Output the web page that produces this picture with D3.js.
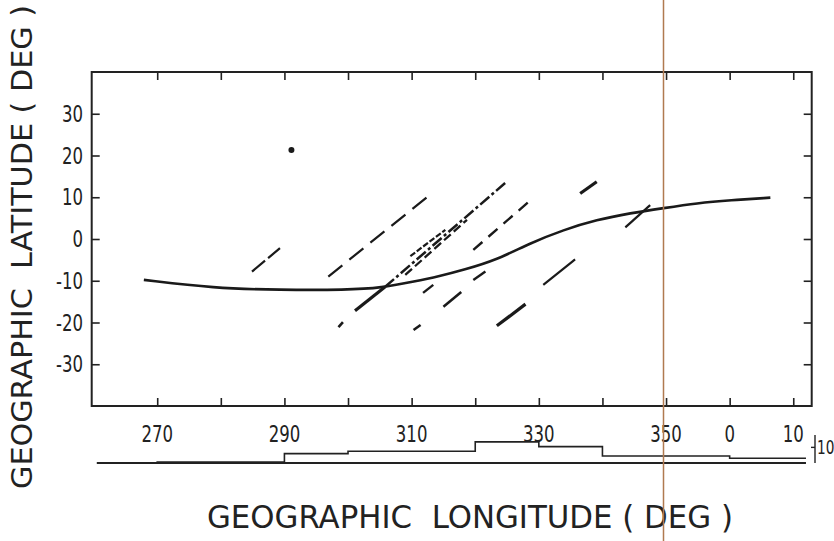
<!DOCTYPE html>
<html>
<head>
<meta charset="utf-8">
<script src="https://cdn.jsdelivr.net/npm/d3@7"></script>
<style>
  body { margin: 0; background: #fff; }
  svg text { font-family: "DejaVu Sans", sans-serif; fill: #222; }
</style>
</head>
<body>
<svg id="chart" width="834" height="541"></svg>
<script>
// longitude ticks (270..370, values above 360 wrap to 0, 10)
var lonTicks = [270, 280, 290, 300, 310, 320, 330, 340, 350, 360, 370];
var lonLabelled = [270, 290, 310, 330, 350, 360, 370];
var latTicks = [-30, -20, -10, 0, 10, 20, 30];

// smooth curve (lon, lat)
var curveLon = [267.9, 278.9, 289.3, 299.8, 305.3, 310.3, 314.2, 318.2, 323.4, 328.6, 333.9, 339.1, 344.4, 349.6, 354.9, 360.1, 366.4];
var curveLat = [-9.8, -11.8, -12.2, -12.2, -11.7, -10.2, -9.0, -7.4, -5.0, -1.0, 2.2, 4.6, 6.2, 7.4, 8.6, 9.3, 9.9];

// track segments: start lon/lat, end lon/lat, dash pattern, stroke weight
var segLon0 = [284.9, 296.9, 301.1, 305.8, 309.0, 309.8, 319.7, 336.5, 319.7, 330.7, 315.0, 323.4, 343.6, 311.8, 298.5, 310.3];
var segLat0 = [-7.8, -9.0, -17.2, -11.5, -8.6, -4.1, -2.6, 10.9, -9.8, -11.0, -16.2, -20.8, 2.8, -12.9, -21.1, -21.8];
var segLon1 = [289.3, 313.3, 305.8, 324.7, 318.7, 315.3, 328.4, 339.1, 321.6, 335.7, 317.8, 327.9, 347.5, 313.4, 299.2, 311.4];
var segLat1 = [-2.2, 11.1, -11.5, 13.4, 4.6, 2.2, 8.9, 13.7, -7.8, -4.9, -12.7, -15.6, 8.1, -11.0, -19.9, -20.6];
var segDash = ["17,4", "18,9", "none", "12,3,3,3", "9,4", "6,2", "12,8", "none", "none", "none", "none", "none", "none", "none", "none", "none"];
var segWidth = [2.2, 2.2, 3.2, 2.5, 2.3, 2.2, 2.4, 3.2, 2.4, 2.2, 2.6, 3.2, 2.2, 2.4, 2.6, 2.6];

// isolated point
var dotLon = [291.1];
var dotLat = [21.3];

// histogram below the axis: 10 degree bins starting at bin edges
var histEdges = [261, 270, 290, 300, 320, 330, 340, 360, 372];
var histCounts = [0, 0.6, 6, 7.5, 13.5, 10.5, 4.5, 3];
var histScaleValue = 10;

var svg = d3.select("#chart");

var x = d3.scaleLinear().domain([259.7, 372.9]).range([91.7, 811.7]);
var y = d3.scaleLinear().domain([-40, 40]).range([406, 72]);
var h = d3.scaleLinear().domain([0, 16]).range([463, 438]);

var squeeze = 0.72; // narrow plotter lettering

function lonLabel(v) { return v >= 360 ? String(v - 360) : String(v); }

// axes with inward ticks
svg.append("g")
    .attr("transform", "translate(0," + y(-40) + ")")
    .call(d3.axisTop(x).tickValues(lonTicks).tickSize(8).tickFormat(""));
svg.append("g")
    .attr("transform", "translate(0," + y(40) + ")")
    .call(d3.axisBottom(x).tickValues(lonTicks).tickSize(8).tickFormat(""));
svg.append("g")
    .attr("transform", "translate(" + x.range()[0] + ",0)")
    .call(d3.axisRight(y).tickValues(latTicks).tickSize(8).tickFormat(""));
svg.append("g")
    .attr("transform", "translate(" + x.range()[1] + ",0)")
    .call(d3.axisLeft(y).tickValues(latTicks).tickSize(8).tickFormat(""));

svg.selectAll(".domain").remove();
svg.selectAll(".tick line").attr("stroke", "#222").attr("stroke-width", 1.6);

svg.append("rect")
    .attr("x", x.range()[0]).attr("y", y(40))
    .attr("width", x.range()[1] - x.range()[0])
    .attr("height", y(-40) - y(40))
    .attr("fill", "none").attr("stroke", "#222").attr("stroke-width", 2);

// tick labels
svg.append("g").selectAll("text")
    .data(lonLabelled).enter().append("text")
    .attr("transform", function(d) { return "translate(" + x(d) + ",442) scale(" + squeeze + ",1)"; })
    .attr("text-anchor", "middle")
    .attr("font-size", 23)
    .text(lonLabel);

svg.append("g").selectAll("text")
    .data(latTicks).enter().append("text")
    .attr("transform", function(d) { return "translate(83," + (y(d) + 8) + ") scale(" + squeeze + ",1)"; })
    .attr("text-anchor", "end")
    .attr("font-size", 23)
    .text(function(d) { return d < 0 ? "-" + Math.abs(d) : d; });

// curve
var curve = curveLon.map(function(d, i) { return [d, curveLat[i]]; });
svg.append("path")
    .datum(curve)
    .attr("fill", "none")
    .attr("stroke", "#1a1a1a")
    .attr("stroke-width", 2.6)
    .attr("d", d3.line()
        .x(function(d) { return x(d[0]); })
        .y(function(d) { return y(d[1]); })
        .curve(d3.curveBasis));

// track segments
svg.append("g").selectAll("line")
    .data(segLon0).enter().append("line")
    .attr("x1", function(d) { return x(d); })
    .attr("y1", function(d, i) { return y(segLat0[i]); })
    .attr("x2", function(d, i) { return x(segLon1[i]); })
    .attr("y2", function(d, i) { return y(segLat1[i]); })
    .attr("stroke", "#1a1a1a")
    .attr("stroke-width", function(d, i) { return segWidth[i]; })
    .attr("stroke-dasharray", function(d, i) { return segDash[i]; });

svg.append("g").selectAll("circle")
    .data(dotLon).enter().append("circle")
    .attr("cx", function(d) { return x(d); })
    .attr("cy", function(d, i) { return y(dotLat[i]); })
    .attr("r", 3)
    .attr("fill", "#1a1a1a");

// histogram step line
var steps = [];
histCounts.forEach(function(c, i) {
    steps.push([histEdges[i], c]);
    steps.push([histEdges[i + 1], c]);
});
svg.append("line")
    .attr("x1", x(260.5)).attr("x2", x(372))
    .attr("y1", h(0)).attr("y2", h(0))
    .attr("stroke", "#222").attr("stroke-width", 1.8);
svg.append("path")
    .datum(steps)
    .attr("fill", "none")
    .attr("stroke", "#222")
    .attr("stroke-width", 1.6)
    .attr("d", d3.line()
        .x(function(d) { return x(d[0]); })
        .y(function(d) { return h(d[1]); }));

// histogram scale bar
var barX = 815;
svg.append("line")
    .attr("x1", barX).attr("x2", barX)
    .attr("y1", h(0)).attr("y2", h(18))
    .attr("stroke", "#222").attr("stroke-width", 1.4);
svg.append("line")
    .attr("x1", barX - 4).attr("x2", barX)
    .attr("y1", h(histScaleValue)).attr("y2", h(histScaleValue))
    .attr("stroke", "#222").attr("stroke-width", 1.4);
svg.append("text")
    .attr("transform", "translate(" + (barX + 2) + "," + (h(histScaleValue) + 7) + ") scale(" + squeeze + ",1)")
    .attr("font-size", 19)
    .text(histScaleValue);

// axis titles
svg.append("text")
    .attr("x", 470).attr("y", 528)
    .attr("text-anchor", "middle")
    .attr("font-size", 32)
    .attr("textLength", 526)
    .attr("lengthAdjust", "spacingAndGlyphs")
    .style("white-space", "pre")
    .text("GEOGRAPHIC  LONGITUDE ( DEG )");

svg.append("text")
    .attr("transform", "translate(32,247) rotate(-90)")
    .attr("text-anchor", "middle")
    .attr("font-size", 29)
    .attr("textLength", 484)
    .attr("lengthAdjust", "spacingAndGlyphs")
    .style("white-space", "pre")
    .text("GEOGRAPHIC  LATITUDE ( DEG )");

// fold mark of the scanned sheet, near 350 deg
svg.append("line")
    .attr("x1", x(349.6)).attr("x2", x(349.6))
    .attr("y1", 0).attr("y2", 541)
    .attr("stroke", "#b07a50").attr("stroke-width", 1.5);
</script>
</body>
</html>
